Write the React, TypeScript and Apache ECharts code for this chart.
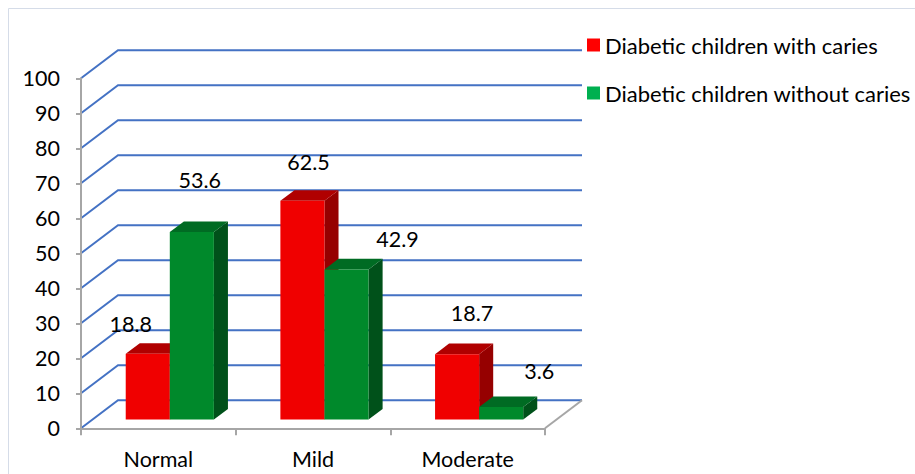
import React, { useEffect, useRef } from "react";
import * as echarts from "echarts";

const categories = ["Normal", "Mild", "Moderate"];
const seriesNames = ["Diabetic children with caries", "Diabetic children without caries"];
const withCaries = [18.8, 62.5, 18.7];
const withoutCaries = [53.6, 42.9, 3.6];
const yTicks = [0, 10, 20, 30, 40, 50, 60, 70, 80, 90, 100];

// label nudges in px from the top centre of each bar's front face (style only)
const nudgeWith = [[-17, -30], [6, -39], [15, -41]];
const nudgeWithout = [[8, -52], [51, -30], [38, -36]];

const DX = 37;
const DY = -28;
const F0 = 0.31;
const F1 = 0.69;
const BAR_FRAC = 0.285;
const FONT = "Lato, 'Open Sans', sans-serif";
const FS = 21.5;

const palette = [
  { front: "#F00000", top: "#B00000", side: "#960000", legend: "#FF0000" },
  { front: "#00892B", top: "#006B23", side: "#00511A", legend: "#00B050" },
];

function barSeries(s: number, name: string, values: number[], nudges: number[][]) {
  const c = palette[s];
  return {
    type: "custom",
    name,
    z: 3 + s,
    itemStyle: { color: c.legend },
    data: values.map((v, i) => [i, v]),
    renderItem: (params: any, api: any) => {
      const i = api.value(0);
      const v = api.value(1);
      const top = api.coord([i, v]);
      const base = api.coord([i, 0]);
      const band = api.size([1, 0])[0];
      const w = band * BAR_FRAC;
      const cx = top[0] + F0 * DX;
      const xl = s === 0 ? cx - w : cx;
      const xr = xl + w;
      const yt = top[1] + F0 * DY;
      const yb = base[1] + F0 * DY;
      const ddx = (F1 - F0) * DX;
      const ddy = (F1 - F0) * DY;
      const nd = nudges[i];
      return {
        type: "group",
        children: [
          {
            type: "polygon",
            shape: { points: [[xr, yt], [xr + ddx, yt + ddy], [xr + ddx, yb + ddy], [xr, yb]] },
            style: { fill: c.side },
          },
          {
            type: "polygon",
            shape: { points: [[xl, yt], [xr, yt], [xr + ddx, yt + ddy], [xl + ddx, yt + ddy]] },
            style: { fill: c.top },
          },
          {
            type: "rect",
            shape: { x: xl, y: yt, width: w, height: yb - yt },
            style: { fill: c.front },
          },
          {
            type: "text",
            z2: 10,
            style: {
              text: String(v),
              x: (xl + xr) / 2 + nd[0],
              y: yt + nd[1],
              align: "center",
              verticalAlign: "middle",
              fill: "#000",
              fontSize: FS,
              fontFamily: FONT,
            },
          },
        ],
      };
    },
  };
}

export default function App() {
  const ref = useRef<HTMLDivElement>(null);
  useEffect(() => {
    const chart = echarts.init(ref.current!, null, { renderer: "svg" });
    chart.setOption({
      animation: false,
      backgroundColor: "#fff",
      graphic: [
        {
          type: "rect",
          shape: { x: 8.5, y: 8.5, width: 1000, height: 1000 },
          style: { fill: "none", stroke: "#D5DCE8", lineWidth: 1 },
          silent: true,
        },
      ],
      legend: {
        orient: "vertical",
        left: 587,
        top: 34,
        padding: 0,
        itemWidth: 13,
        itemHeight: 13,
        itemGap: 26,
        icon: "rect",
        textStyle: { fontSize: 22, fontFamily: FONT, color: "#000" },
        data: seriesNames.map((n, k) => ({ name: n, itemStyle: { color: palette[k].legend } })),
      },
      grid: {
        left: 81,
        top: 78.3,
        width: 464,
        height: 350,
        containLabel: false,
        outerBoundsMode: "none",
      },
      xAxis: {
        type: "category",
        data: categories,
        boundaryGap: true,
        axisLine: { show: true, lineStyle: { color: "#A6A6A6", width: 2 } },
        axisTick: { show: true, length: 7, interval: 0, lineStyle: { color: "#A6A6A6", width: 2 } },
        axisLabel: { margin: 20, fontSize: FS, fontFamily: FONT, color: "#000" },
        splitLine: { show: false },
        z: 2,
      },
      yAxis: {
        type: "value",
        min: 0,
        max: 100,
        interval: 10,
        axisLine: { show: true, lineStyle: { color: "#A6A6A6", width: 2 } },
        axisTick: { show: true, length: 5, lineStyle: { color: "#A6A6A6", width: 2 } },
        axisLabel: { margin: 21, fontSize: FS, fontFamily: FONT, color: "#000" },
        splitLine: { show: false },
        z: 2,
      },
      series: [
        {
          type: "custom",
          name: "walls",
          z: 1,
          silent: true,
          data: yTicks.map((t) => [0, t]),
          renderItem: (params: any, api: any) => {
            const cs = params.coordSys;
            const v = api.value(1);
            const yf = api.coord([0, v])[1];
            const x0 = cs.x;
            const x1 = cs.x + cs.width;
            const children: any[] = [
              {
                type: "polyline",
                shape: { points: [[x0, yf], [x0 + DX, yf + DY], [x1 + DX, yf + DY]] },
                style: { stroke: "#4472C4", lineWidth: 2, fill: null },
              },
            ];
            if (v === 0) {
              children.push({
                type: "line",
                shape: { x1: x1, y1: yf, x2: x1 + DX, y2: yf + DY },
                style: { stroke: "#A6A6A6", lineWidth: 2 },
              });
            }
            return { type: "group", children };
          },
        },
        barSeries(0, seriesNames[0], withCaries, nudgeWith),
        barSeries(1, seriesNames[1], withoutCaries, nudgeWithout),
      ],
    });
    return () => chart.dispose();
  }, []);
  return (
    <div
      ref={ref}
      style={{ position: "fixed", left: 0, top: 0, width: 915, height: 474, background: "#fff" }}
    />
  );
}
